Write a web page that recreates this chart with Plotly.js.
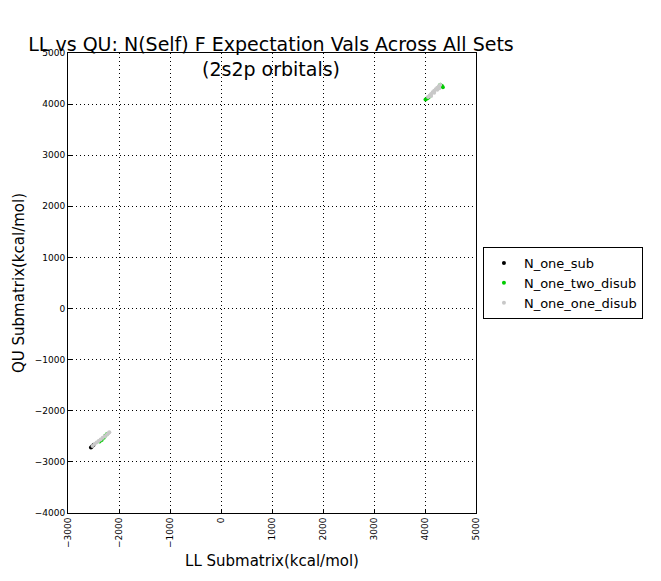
<!DOCTYPE html>
<html><head><meta charset="utf-8">
<script src="https://cdn.plot.ly/plotly-3.0.1.min.js"></script>
<style>body{margin:0;background:#fff}</style></head>
<body><div id="chart" style="width:661px;height:581px"></div>
<script>
var subX = [-2550, -2530, -2500];
var subY = [-2720, -2700, -2670];
var twoX = [-2380, -2340, -2300, -2270, -2240, 4010, 4040, 4070, 4300, 4330, 4350];
var twoY = [-2600, -2570, -2530, -2490, -2460, 4090, 4110, 4130, 4380, 4360, 4330];
var oneX = [-2520, -2480, -2440, -2400, -2360, -2320, -2280, -2240, -2210, -2190,
            4060, 4090, 4120, 4150, 4180, 4210, 4240, 4270, 4300, 4120, 4180, 4240, 4280];
var oneY = [-2690, -2650, -2620, -2590, -2560, -2530, -2500, -2470, -2440, -2420,
            4140, 4170, 4200, 4230, 4260, 4290, 4320, 4350, 4380, 4160, 4220, 4280, 4310];

var mk = function (c) { return { size: 4, color: c }; };
var data = [
  { x: subX, y: subY, name: 'N_one_sub', type: 'scatter', mode: 'markers', marker: mk('#000000') },
  { x: twoX, y: twoY, name: 'N_one_two_disub', type: 'scatter', mode: 'markers', marker: mk('#00cc00') },
  { x: oneX, y: oneY, name: 'N_one_one_disub', type: 'scatter', mode: 'markers', marker: mk('#c8c8c8') }
];
var ax = {
  showline: true, mirror: true, linecolor: '#000', linewidth: 1,
  showgrid: true, gridcolor: '#000', griddash: '1px,3px', gridwidth: 1,
  zeroline: false, ticks: 'inside', ticklen: 4, tickcolor: '#000',
  tickfont: { size: 9, color: '#000' }, dtick: 1000
};
var layout = {
  width: 661, height: 581,
  font: { family: 'DejaVu Sans', color: '#000' },
  margin: { l: 68, r: 185, t: 53, b: 68 },
  title: { text: 'LL vs QU: N(Self) F Expectation Vals Across All Sets<br>(2s2p orbitals)', font: { size: 19 },
           x: 0.41, xanchor: 'center', xref: 'container', yref: 'paper', y: 1, yanchor: 'bottom', pad: { b: 2 } },
  xaxis: Object.assign({}, ax, { range: [-3000, 5000], tickangle: -90, title: { text: 'LL Submatrix(kcal/mol)', font: { size: 15 }, standoff: 8 } }),
  yaxis: Object.assign({}, ax, { range: [-4000, 5000], title: { text: 'QU Submatrix(kcal/mol)', font: { size: 15 }, standoff: 6 } }),
  showlegend: true,
  legend: { x: 1.017, y: 0.5, yanchor: 'middle', xanchor: 'left', bordercolor: '#000', borderwidth: 1, font: { size: 13 } },
  plot_bgcolor: '#fff', paper_bgcolor: '#fff'
};
Plotly.newPlot('chart', data, layout, { displayModeBar: false });
</script></body></html>
